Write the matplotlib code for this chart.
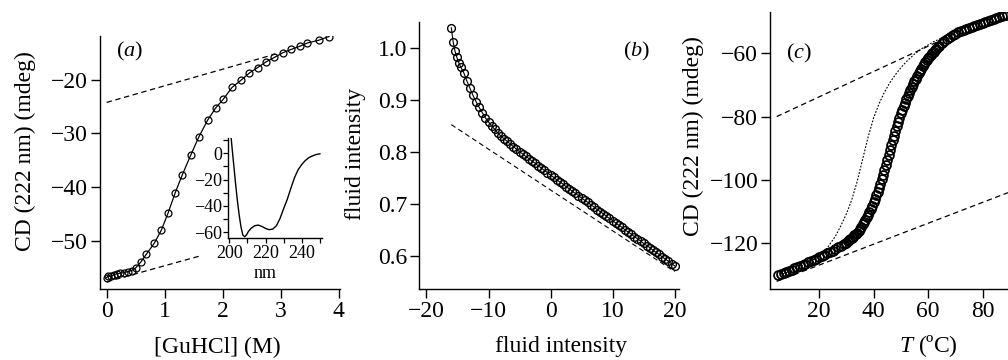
"""
Three panel CD / fluorescence figure: (a) GuHCl denaturation with CD
spectrum inset, (b) fluid intensity, (c) thermal melt.
"""

import matplotlib
matplotlib.use('Agg')
import matplotlib.pyplot as plt
from matplotlib.ticker import MultipleLocator

# Panel (a): chemical denaturation at 222 nm
guhcl = [0.0, 0.03, 0.07, 0.12, 0.17, 0.23, 0.29, 0.36, 0.43, 0.50, 0.59,
         0.68, 0.82, 0.94, 1.06, 1.18, 1.30, 1.45, 1.59, 1.74, 1.88, 2.01,
         2.16, 2.31, 2.46, 2.60, 2.75, 2.89, 3.04, 3.18, 3.33, 3.46, 3.65,
         3.83]
cd_guhcl = [-56.9, -56.6, -56.7, -56.4, -56.2, -56.1, -56.0, -55.8, -55.6,
            -55.1, -54.0, -52.6, -50.5, -48.1, -44.8, -41.1, -37.8, -34.0,
            -30.6, -27.5, -25.2, -23.6, -21.4, -20.1, -18.7, -17.7, -16.6,
            -15.8, -14.9, -14.3, -13.7, -13.1, -12.6, -11.9]
base_a_upper = ([0.0, 2.9], [-24.2, -15.2])
base_a_lower = ([0.0, 1.6], [-57.7, -52.9])

# Inset: CD spectrum
wavelength = [200.5, 201.5, 202.5, 203.5, 204.5, 205.5, 206.5, 207.5, 208.5,
              209.5, 210.5, 212, 214, 216, 218, 220, 222, 224, 226, 228, 230,
              232, 234, 236, 238, 240, 242, 244, 246, 248, 250]
cd_spectrum = [20, 5, -9, -23, -36, -47, -56, -62, -63.3, -62, -59.5, -57,
               -55, -54.5, -55.5, -57, -58, -57.5, -55, -49.5, -42, -35,
               -26.5, -18.5, -12.5, -8.5, -5.5, -3.3, -2, -1, -0.5]

# Panel (b): fluid intensity
fluid_x = [-16.0, -15.7, -15.4, -15.1, -14.8, -14.5, -14.0, -13.5, -13.0,
           -12.5, -12.0, -11.5, -11.0, -10.5, -10.0, -9.5, -9.0, -8.5, -8.0,
           -7.5, -7.0, -6.5, -6.0, -5.5, -5.0, -4.5, -4.0, -3.5, -3.0, -2.5,
           -2.0, -1.5, -1.0, -0.5, 0.0, 0.5, 1.0, 1.5, 2.0, 2.5, 3.0, 3.5,
           4.0, 4.5, 5.0, 5.5, 6.0, 6.5, 7.0, 7.5, 8.0, 8.5, 9.0, 9.5, 10.0,
           10.5, 11.0, 11.5, 12.0, 12.5, 13.0, 13.5, 14.0, 14.5, 15.0, 15.5,
           16.0, 16.5, 17.0, 17.5, 18.0, 18.5, 19.0, 19.5, 20.0]
fluid_y = [1.038, 1.011, 0.993, 0.981, 0.971, 0.963, 0.952, 0.936, 0.922,
           0.908, 0.896, 0.885, 0.875, 0.865, 0.857, 0.850, 0.843, 0.836,
           0.830, 0.825, 0.820, 0.815, 0.810, 0.805, 0.800, 0.796, 0.791,
           0.787, 0.782, 0.778, 0.773, 0.769, 0.764, 0.760, 0.755, 0.751,
           0.746, 0.742, 0.738, 0.733, 0.729, 0.724, 0.720, 0.716, 0.711,
           0.707, 0.703, 0.698, 0.694, 0.689, 0.685, 0.681, 0.676, 0.672,
           0.668, 0.663, 0.659, 0.655, 0.650, 0.646, 0.642, 0.637, 0.633,
           0.629, 0.624, 0.620, 0.616, 0.611, 0.607, 0.603, 0.598, 0.594,
           0.590, 0.585, 0.581]
base_b = ([-16.0, 20.0], [0.852, 0.570])

# Panel (c): thermal melt at 222 nm
temp = [5, 6, 7, 8, 9, 10, 11, 12, 13, 14, 15, 16, 17, 18, 19, 20, 21, 22,
        23, 24, 25, 26, 27, 28, 29,
        30, 30.5, 31, 31.5, 32, 32.5, 33, 33.5, 34, 34.5, 35, 35.5, 36,
        36.5, 37, 37.5, 38, 38.5, 39, 39.5, 40, 40.5, 41, 41.5, 42, 42.5,
        43, 43.5, 44, 44.5, 45, 45.5, 46, 46.5, 47, 47.5, 48, 48.5, 49,
        49.5, 50, 50.5, 51, 51.5, 52, 52.5, 53, 53.5, 54, 54.5, 55, 55.5,
        56, 56.5, 57, 57.5, 58, 58.5, 59, 59.5, 60, 60.5, 61, 61.5, 62,
        62.5, 63, 63.5, 64,
        65, 66, 67, 68, 69, 70, 71, 72, 73, 74, 75, 76, 77, 78, 79, 80, 81,
        82, 83, 84, 85, 86, 87, 88, 89]
cd_temp = [-130.0, -129.7, -129.4, -129.0, -128.7, -128.3, -127.9, -127.5,
           -127.1, -126.8, -126.4, -126.0, -125.6, -125.2, -124.8, -124.4,
           -124.0, -123.6, -123.1, -122.7, -122.3, -121.8, -121.3, -120.8,
           -120.3,
           -119.8, -119.4, -119.0, -118.7, -118.3, -117.9, -117.5, -117.1,
           -116.6, -116.0, -115.4, -114.7, -114.0, -113.3, -112.5, -111.8,
           -111.0, -110.1, -109.1, -108.1, -107.0, -105.9, -104.8, -103.7,
           -102.5, -101.2, -99.8, -98.4, -97.0, -95.4, -93.8, -92.1, -90.5,
           -89.0, -87.5, -86.0, -84.5, -83.1, -81.7, -80.3, -79.0, -77.8,
           -76.7, -75.6, -74.5, -73.5, -72.5, -71.5, -70.6, -69.7, -68.8,
           -68.0, -67.2, -66.4, -65.7, -64.9, -64.2, -63.5, -62.9, -62.2,
           -61.6, -61.1, -60.5, -60.0, -59.5, -59.0, -58.6, -58.1, -57.7,
           -56.9, -56.2, -55.5, -54.9, -54.3, -53.8, -53.4, -53.0, -52.6,
           -52.3, -52.0, -51.7, -51.4, -51.1, -50.8, -50.5, -50.2, -49.9,
           -49.6, -49.3, -49.0, -48.7, -48.4, -48.1, -47.8]
fit_temp = [4.5, 10, 15, 20, 23, 26, 28, 30, 32, 34, 36, 38, 40, 42, 44, 46,
            48, 50, 52, 55, 58, 62, 66, 70, 75]
fit_cd = [-130.5, -128.5, -126.5, -124.2, -121.5, -117.8, -114.5, -110.8,
          -106.3, -100.5, -93.5, -86.5, -80.5, -76.0, -72.3, -69.3, -66.8,
          -64.6, -62.7, -60.3, -58.4, -56.4, -54.8, -53.3, -51.6]
base_c_upper = ([4.5, 71.0], [-80.0, -53.4])
base_c_lower = ([4.5, 89.3], [-132.0, -104.0])

# Set defaults for plot styling
plt.rcParams.update({
    'font.family': ['Liberation Serif', 'DejaVu Serif'],
    'font.size': 17,
    'mathtext.fontset': 'custom',
    'mathtext.rm': 'Liberation Serif',
    'mathtext.it': 'Liberation Serif:italic',
    'axes.linewidth': 1.0,
    'xtick.direction': 'out',
    'ytick.direction': 'out',
})

fig = plt.figure(figsize=(10.08, 3.6), dpi=100)
ax1 = fig.add_axes([0.0992, 0.1964, 0.2381, 0.7036])
ax2 = fig.add_axes([0.4157, 0.1964, 0.2579, 0.7425])
ax3 = fig.add_axes([0.7639, 0.1964, 0.2361, 0.7703])
axin = fig.add_axes([0.2265, 0.3381, 0.0927, 0.2786])

for ax in (ax1, ax2, ax3, axin):
    for side in ('top', 'right'):
        ax.spines[side].set_visible(False)
for ax in (ax1, ax2, ax3):
    ax.tick_params(length=6.5, width=1.0, pad=2, labelsize=17)

dash = (4.3, 2.9)
mk = dict(marker='o', mfc='none', mec='k', color='k')

# Panel (a)
ax1.plot(*base_a_upper, color='k', lw=0.9, dashes=dash)
ax1.plot(*base_a_lower, color='k', lw=0.9, dashes=dash)
ax1.plot(guhcl, cd_guhcl, lw=0.9, ms=5.0, mew=0.9, **mk)
ax1.set_xlim(-0.115, 4.02)
ax1.set_ylim(-59.1, -11.8)
ax1.set_xticks([0, 1, 2, 3, 4])
ax1.set_yticks([-50, -40, -30, -20])
ax1.set_xlabel('[GuHCl] (M)')
ax1.set_ylabel('CD (222 nm) (mdeg)')
ax1.xaxis.set_label_coords(0.4875, -0.228)
ax1.xaxis.label.set_va('center')
ax1.yaxis.set_label_coords(-0.3125, 0.545)
ax1.yaxis.label.set_va('center')
ax1.text(0.123, 0.937, '($a$)', transform=ax1.transAxes, fontsize=16,
         ha='center', va='center')

# Inset
axin.plot(wavelength, cd_spectrum, color='k', lw=1.0)
axin.set_xlim(199.5, 251)
axin.set_ylim(-64.5, 11.5)
axin.set_xticks([200, 220, 240])
axin.set_yticks([-60, -40, -20, 0])
axin.xaxis.set_minor_locator(MultipleLocator(10))
axin.yaxis.set_minor_locator(MultipleLocator(10))
axin.tick_params(which='both', length=3.5, width=0.9, pad=1, labelsize=13)
axin.set_xlabel('nm', fontsize=13)
axin.xaxis.set_label_coords(0.398, -0.351)
axin.xaxis.label.set_va('center')
axin.patch.set_alpha(0)

# Panel (b)
ax2.plot(*base_b, color='k', lw=0.8, dashes=(4.5, 3.0))
ax2.plot(fluid_x, fluid_y, lw=0.8, ms=5.6, mew=1.0, **mk)
ax2.set_xlim(-21.2, 20.7)
ax2.set_ylim(0.536, 1.049)
ax2.set_xticks([-20, -10, 0, 10, 20])
ax2.set_yticks([0.6, 0.7, 0.8, 0.9, 1.0])
ax2.set_yticklabels(['0.6', '0.7', '0.8', '0.9', '1.0'])
ax2.set_xlabel('fluid intensity')
ax2.set_ylabel('fluid intensity')
ax2.xaxis.set_label_coords(0.546, -0.215)
ax2.xaxis.label.set_va('center')
ax2.yaxis.set_label_coords(-0.246, 0.506)
ax2.yaxis.label.set_va('center')
ax2.text(0.835, 0.888, '($b$)', transform=ax2.transAxes, fontsize=16,
         ha='center', va='center')

# Panel (c)
ax3.plot(*base_c_upper, color='k', lw=0.9, dashes=dash)
ax3.plot(*base_c_lower, color='k', lw=0.9, dashes=dash)
ax3.plot(fit_temp, fit_cd, color='k', lw=0.8, dashes=(1.6, 1.4))
ax3.plot(temp, cd_temp, lw=0, ms=6.4, mew=1.3, **mk)
ax3.set_xlim(2.05, 89.3)
ax3.set_ylim(-134.5, -47.0)
ax3.set_xticks([20, 40, 60, 80])
ax3.set_yticks([-120, -100, -80, -60])
ax3.set_xlabel('$T$ (ºC)')
ax3.set_ylabel('CD (222 nm) (mdeg)')
ax3.xaxis.set_label_coords(0.665, -0.203)
ax3.xaxis.label.set_va('center')
ax3.yaxis.set_label_coords(-0.3235, 0.553)
ax3.yaxis.label.set_va('center')
ax3.text(0.122, 0.852, '($c$)', transform=ax3.transAxes, fontsize=16,
         ha='center', va='center')

fig.savefig('out.png', dpi=100)
